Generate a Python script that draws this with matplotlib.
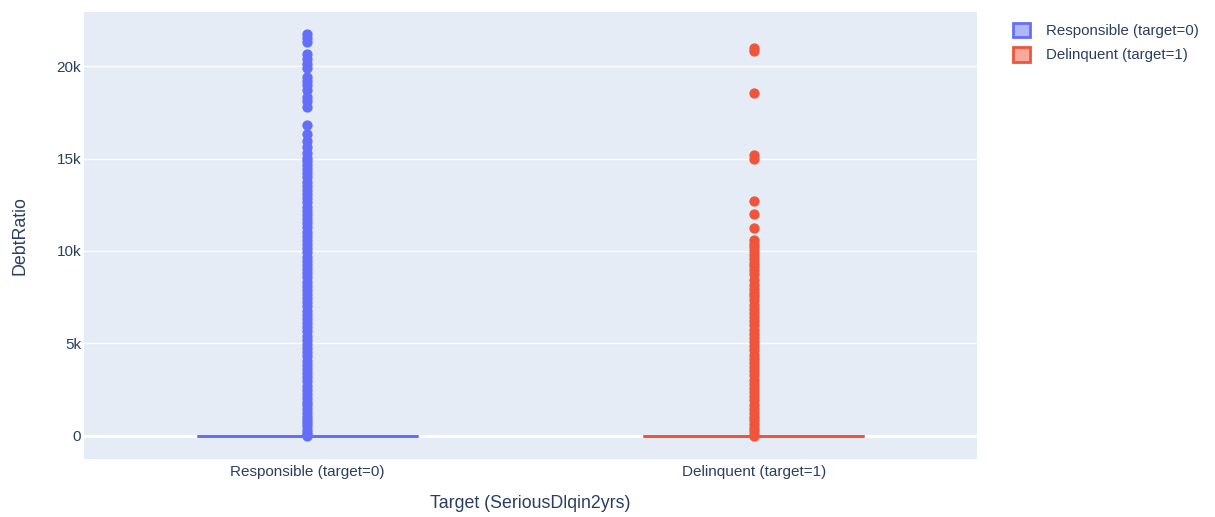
import matplotlib.pyplot as plt
from matplotlib.patches import Patch

plt.rcParams["font.family"] = ["Liberation Sans", "DejaVu Sans"]

groups = ["Responsible (target=0)", "Delinquent (target=1)"]
colors = ["#636EFA", "#EF553B"]

# box stats (DebtRatio quartiles, whisker ends)
q1 = [0.17, 0.19]
med = [0.36, 0.43]
q3 = [0.86, 0.98]
whislo = [0.0, 0.0]
whishi = [1.9, 2.15]

# outliers
resp_fliers = [
    2, 60, 180, 350, 520, 700, 880, 1050, 1250, 1450, 1650, 1850, 2050, 2280,
    2500, 2720, 2950, 3180, 3400, 3620, 3850, 4080, 4300, 4520, 4750, 4980,
    5200, 5430, 5650, 5880, 6100, 6330, 6550, 6780, 7000, 7230, 7450, 7680,
    7900, 8130, 8350, 8580, 8800, 9030, 9250, 9480, 9700, 9930, 10150, 10380,
    10600, 10830, 11050, 11280, 11500, 11730, 11950, 12180, 12400, 12630,
    12850, 13080, 13300, 13530, 13750, 13980, 14200, 14430, 14650, 14880,
    15050, 15300, 15600, 15950, 16300, 16800, 17800, 18100, 18300, 18700,
    19000, 19200, 19400, 19900, 20100, 20400, 20650, 21300, 21500, 21750,
]
delq_fliers = [
    2.5, 80, 250, 450, 650, 850, 1050, 1250, 1480, 1700, 1920, 2150, 2380,
    2600, 2830, 3050, 3280, 3500, 3730, 3950, 4180, 4400, 4630, 4850, 5080,
    5300, 5530, 5750, 5980, 6200, 6430, 6650, 6880, 7100, 7330, 7550, 7750,
    7950, 8150, 8450, 8750, 8950, 9200, 9350, 9550, 9800, 10000, 10200,
    10400, 10600, 11250, 12000, 12700, 15000, 15200, 18550, 20800, 20950,
]

stats = []
for i, name in enumerate(groups):
    stats.append(dict(label=name, q1=q1[i], med=med[i], q3=q3[i],
                      whislo=whislo[i], whishi=whishi[i],
                      fliers=[resp_fliers, delq_fliers][i]))

fig = plt.figure(figsize=(12.15, 5.17), dpi=100)
ax = fig.add_axes([0.0691, 0.1122, 0.7350, 0.8646])
ax.set_facecolor("#E5ECF6")
for s in ax.spines.values():
    s.set_visible(False)

for i, st in enumerate(stats):
    c = colors[i]
    bp = ax.bxp([st], positions=[i], widths=0.495, patch_artist=True,
                showcaps=False, manage_ticks=False,
                boxprops=dict(facecolor=c + "80", edgecolor=c, linewidth=2),
                medianprops=dict(color=c, linewidth=2),
                whiskerprops=dict(color=c, linewidth=2),
                flierprops=dict(marker="o", markersize=6.4, markerfacecolor=c,
                                markeredgecolor=c, linestyle="none"))
    for p in bp["boxes"] + bp["medians"] + bp["whiskers"] + bp["fliers"]:
        p.set_zorder(3)

ax.set_xlim(-0.5, 1.5)
ax.set_ylim(-1244, 22920)
ax.set_yticks([0, 5000, 10000, 15000, 20000])
ax.set_yticklabels(["0", "5k", "10k", "15k", "20k"])
ax.set_xticks([0, 1])
ax.set_xticklabels(groups)
ax.yaxis.grid(True, color="white", linewidth=1)
ax.axhline(0, color="white", linewidth=2, zorder=1)
ax.set_axisbelow(True)
ax.tick_params(axis="both", length=0, labelsize=11, colors="#2a3f5f")
ax.tick_params(axis="y", pad=2)
ax.tick_params(axis="x", pad=4)

ax.set_xlabel("Target (SeriousDlqin2yrs)", fontsize=12.8, color="#2a3f5f", labelpad=12)
ax.set_ylabel("DebtRatio", fontsize=12.8, color="#2a3f5f", labelpad=20)

handles = [Patch(facecolor=c + "80", edgecolor=c, linewidth=2) for c in colors]
fig.legend(handles, groups, loc="upper left", bbox_to_anchor=(0.823, 0.982),
           frameon=False, fontsize=10.8, labelcolor="#2a3f5f",
           handlelength=1.1, handleheight=1.1, handletextpad=1.1,
           labelspacing=0.6)

fig.savefig("out.png", dpi=100)
